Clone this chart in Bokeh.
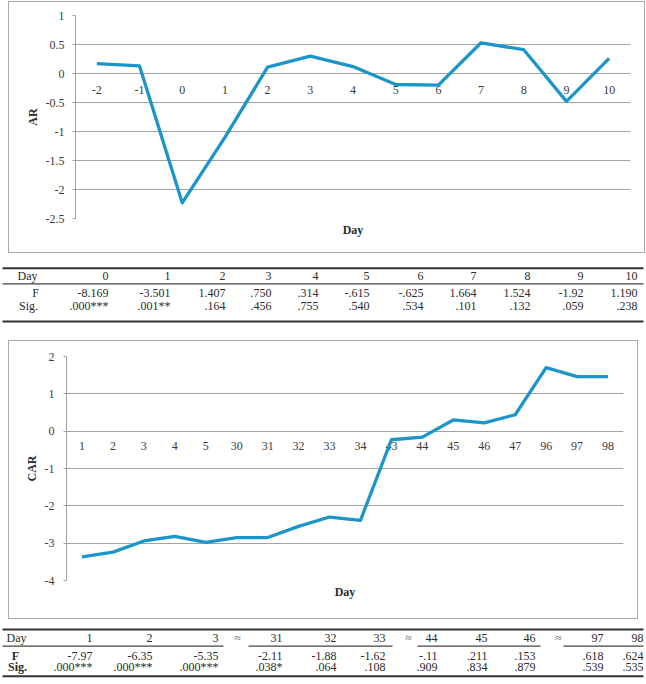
from bokeh.plotting import figure
from bokeh.models import FactorRange, Range1d, FixedTicker, NumeralTickFormatter, Title
from bokeh.embed import file_html
from bokeh.resources import INLINE
from bokeh.core.properties import value

# ---------------- data ----------------
ar_days = ["-2", "-1", "0", "1", "2", "3", "4", "5", "6", "7", "8", "9", "10"]
ar_values = [0.17, 0.13, -2.23, -1.10, 0.11, 0.30, 0.12, -0.19, -0.20, 0.53, 0.41, -0.48, 0.26]
ar_ticks = [1, 0.5, 0, -0.5, -1, -1.5, -2, -2.5]

t1_days = ["0", "1", "2", "3", "4", "5", "6", "7", "8", "9", "10"]
t1_f = ["-8.169", "-3.501", "1.407", ".750", ".314", "-.615", "-.625", "1.664", "1.524", "-1.92", "1.190"]
t1_sig = [".000***", ".001**", ".164", ".456", ".755", ".540", ".534", ".101", ".132", ".059", ".238"]

car_days = ["1", "2", "3", "4", "5", "30", "31", "32", "33", "34", "43", "44", "45", "46", "47", "96", "97", "98"]
car_values = [-3.37, -3.24, -2.94, -2.82, -2.98, -2.85, -2.85, -2.55, -2.30, -2.39,
              -0.23, -0.16, 0.30, 0.22, 0.44, 1.70, 1.46, 1.46]
car_ticks = [2, 1, 0, -1, -2, -3, -4]

t2_days = ["1", "2", "3", "31", "32", "33", "44", "45", "46", "97", "98"]
t2_f = ["-7.97", "-6.35", "-5.35", "-2.11", "-1.88", "-1.62", "-.11", ".211", ".153", ".618", ".624"]
t2_sig = [".000***", ".000***", ".000***", ".038*", ".064", ".108", ".909", ".834", ".879", ".539", ".535"]
t2_gap = "\u2248"

# ---------------- style / layout ----------------
PAGE_W = 646
FONT_NAME = "Liberation Serif"
FONT = value(FONT_NAME)
BLUE = "#1c95c8"
GRID = "#a3a3a3"
BOX = "#a8a8a8"
TICK_TXT = "#3a3a3a"
TXT = "#2b2b2b"
FS = "12px"


def make_chart(days, vals, ticks, ylabel, fig_w, fig_h, m_top, m_left, area,
               lab_off, title_standoff, tick_standoff, yl_standoff):
    l, r, t, b = area
    p = figure(width=fig_w, height=fig_h, x_range=FactorRange(*days),
               y_range=Range1d(min(ticks), max(ticks)),
               output_backend="svg", toolbar_location=None,
               min_border_left=l, min_border_right=fig_w - r,
               min_border_top=t, min_border_bottom=fig_h - b,
               margin=(m_top, 0, 0, m_left),
               styles={"outline": "1px solid " + BOX})
    p.outline_line_color = None
    p.xaxis.visible = False
    p.xgrid.visible = False
    p.ygrid.ticker = FixedTicker(ticks=ticks)
    p.ygrid.grid_line_color = GRID
    p.ygrid.grid_line_width = 1

    ya = p.yaxis[0]
    ya.ticker = FixedTicker(ticks=ticks)
    ya.formatter = NumeralTickFormatter(format="0.[0]")
    ya.axis_line_color = GRID
    ya.major_tick_line_color = GRID
    ya.major_tick_out = 3
    ya.major_tick_in = 0
    ya.minor_tick_line_color = None
    ya.major_label_standoff = tick_standoff
    ya.major_label_text_font = FONT_NAME
    ya.major_label_text_font_size = FS
    ya.major_label_text_color = TICK_TXT
    ya.axis_label = ylabel
    ya.axis_label_text_font = FONT_NAME
    ya.axis_label_text_font_style = "bold"
    ya.axis_label_text_font_size = FS
    ya.axis_label_text_color = TXT
    ya.axis_label_standoff = yl_standoff

    p.add_layout(Title(text="Day", align="center", text_font=FONT_NAME,
                       text_font_style="bold", text_font_size=FS,
                       text_color=TXT, standoff=title_standoff), "below")

    # category labels sit just under the zero line (axis crossing at 0)
    p.text(x=days, y=[0] * len(days), text=days, text_align="center",
           text_baseline="middle", y_offset=lab_off, text_font=FONT,
           text_font_size=FS, text_color=TICK_TXT)
    p.line(x=days, y=vals, line_width=3.3, line_color=BLUE, line_join="round")
    return p


def make_table(y_top, y_bot, m_top):
    p = figure(width=PAGE_W, height=y_bot - y_top, x_range=Range1d(0, PAGE_W),
               y_range=Range1d(y_bot, y_top), output_backend="svg",
               toolbar_location=None, min_border=0, margin=(m_top, 0, 0, 0),
               x_axis_location=None, y_axis_location=None)
    p.grid.visible = False
    p.outline_line_color = None
    return p


# ---------------- chart 1 (AR) ----------------
p1 = make_chart(ar_days, ar_values, ar_ticks, "AR", 635, 250, 2, 9,
                area=(66, 621, 13, 216), lab_off=16, title_standoff=4,
                tick_standoff=8, yl_standoff=3)

# ---------------- table 1 ----------------
t1 = make_table(253, 337, 1)
T1_RIGHT = [108, 170, 225, 271, 318, 369, 423, 476, 530, 583, 637]
T1_ROWY = [275.7, 292.3, 305]
t1.segment(x0=[2, 2], y0=[267.7, 321], x1=[643, 643], y1=[267.7, 321], line_color="#333333", line_width=2)
t1.segment(x0=[2], y0=[283.3], x1=[643], y1=[283.3], line_color="#444444", line_width=1.3)
for row, y, hx, head in zip([t1_days, t1_f, t1_sig], T1_ROWY, [27, 35, 28], ["Day", "F", "Sig."]):
    t1.text(x=T1_RIGHT, y=[y] * len(row), text=row, text_align="right", text_baseline="middle",
            text_font=FONT, text_font_size=FS, text_color=TXT)
    t1.text(x=[hx], y=[y], text=[head], text_align="center", text_baseline="middle",
            text_font=FONT, text_font_size=FS, text_color=TXT)

# ---------------- chart 2 (CAR) ----------------
p2 = make_chart(car_days, car_values, car_ticks, "CAR", 628, 277, 4, 9,
                area=(57, 614, 15, 239), lab_off=15, title_standoff=4,
                tick_standoff=9, yl_standoff=3)

# ---------------- table 2 ----------------
t2 = make_table(619, 683, 1)
T2_RIGHT = [92, 152, 218, 282, 336, 385, 437, 487, 535, 603, 643]
T2_GAPX = [237, 408, 558]
T2_ROWY = [637.3, 655, 666.7]
t2.segment(x0=[2, 2], y0=[629, 675.7], x1=[643, 643], y1=[629, 675.7], line_color="#333333", line_width=2)
t2.segment(x0=[2, 248, 417, 563], y0=[645.7] * 4, x1=[223, 392, 540, 643], y1=[645.7] * 4,
           line_color="#444444", line_width=1.3)
for row, y, hx, head, style in zip([t2_days, t2_f, t2_sig], T2_ROWY, [16, 15, 17],
                                   ["Day", "F", "Sig."], ["normal", "bold", "bold"]):
    t2.text(x=T2_RIGHT, y=[y] * len(row), text=row, text_align="right", text_baseline="middle",
            text_font=FONT, text_font_size=FS, text_color=TXT)
    t2.text(x=[hx], y=[y], text=[head], text_align="center", text_baseline="middle",
            text_font=FONT, text_font_size=FS, text_color=TXT, text_font_style=style)
t2.text(x=T2_GAPX, y=[T2_ROWY[0]] * len(T2_GAPX), text=[t2_gap] * len(T2_GAPX),
        text_align="center", text_baseline="middle", text_font=FONT, text_font_size=FS,
        text_color="#666666")

# separate roots stacked vertically, so that each figure keeps its own frame
open("out.html", "w").write(file_html([p1, t1, p2, t2], INLINE))
